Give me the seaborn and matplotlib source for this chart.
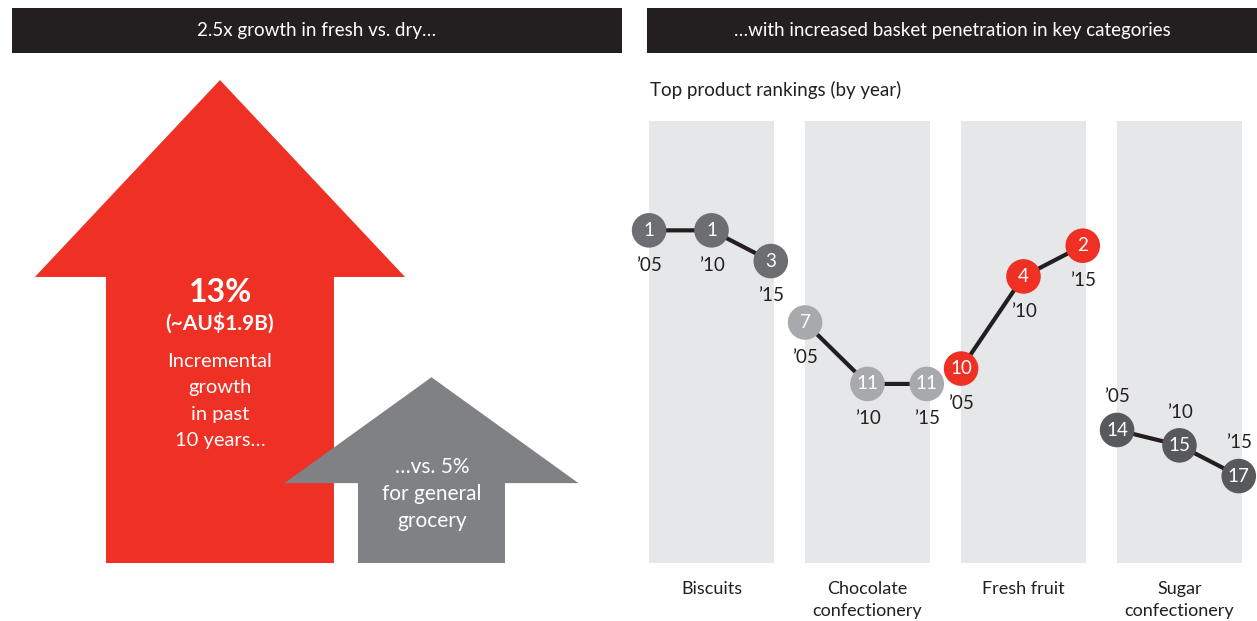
import numpy as np
import pandas as pd
import matplotlib
matplotlib.use("Agg")
import matplotlib.pyplot as plt
from matplotlib.patches import Polygon
import seaborn as sns

# ---- data -------------------------------------------------------------
growth_labels = ["Fresh", "General grocery"]
growth_values = [13, 5]  # incremental growth in past 10 years, %

categories = ["Biscuits", "Chocolate\nconfectionery", "Fresh fruit", "Sugar\nconfectionery"]
years = ["\u201905", "\u201910", "\u201915"]
rank_biscuits = [1, 1, 3]
rank_chocolate = [7, 11, 11]
rank_fresh_fruit = [10, 4, 2]
rank_sugar = [14, 15, 17]

header_left = "2.5x growth in fresh vs. dry\u2026"
header_right = "\u2026with increased basket penetration in key categories"
subtitle = "Top product rankings (by year)"

# ---- style ------------------------------------------------------------
sns.set_theme(style="white")
plt.rcParams["font.family"] = ["Lato", "DejaVu Sans"]

RED = "#ee3124"
GREY_ARROW = "#808184"
DARK = "#231f20"
COLUMN = "#e6e7e8"
dot_palette = {categories[0]: "#6d6e71", categories[1]: "#a7a9ac",
               categories[2]: RED, categories[3]: "#58595b"}

W, H = 1257, 621
fig = plt.figure(figsize=(W / 100, H / 100), dpi=100)
fig.patch.set_facecolor("white")


def box(x0, y0, x1, y1):
    """Figure-fraction rectangle from pixel edges measured from top-left."""
    return [x0 / W, 1 - y1 / H, (x1 - x0) / W, (y1 - y0) / H]


def fpos(x, y):
    return x / W, 1 - y / H


# ---- header bars ------------------------------------------------------
for rect, txt in [(box(12, 8, 622, 53), header_left), (box(647, 8, 1257, 53), header_right)]:
    hax = fig.add_axes(rect)
    hax.set_facecolor(DARK)
    hax.set_xticks([]); hax.set_yticks([])
    for s in hax.spines.values():
        s.set_visible(False)
    hax.text(0.5, 0.5, txt, color="white", ha="center", va="center",
             fontsize=13.5, transform=hax.transAxes)

# ---- left panel: growth arrows ----------------------------------------
ax_l = fig.add_axes(box(0, 60, 640, 563))
ax_l.set_xlim(-1.04, 1.986)
ax_l.set_ylim(0, 13.54)
ax_l.axis("off")

arrow_colors = [RED, GREY_ARROW]
head_half = [0.875, 0.695]
shaft_half = [0.539, 0.3475]
head_height = [5.30, 2.85]
for i, v in enumerate(growth_values):
    hh, sh, hd = head_half[i], shaft_half[i], head_height[i]
    pts = [(i - sh, 0), (i - sh, v - hd), (i - hh, v - hd), (i, v),
           (i + hh, v - hd), (i + sh, v - hd), (i + sh, 0)]
    ax_l.add_patch(Polygon(pts, closed=True, facecolor=arrow_colors[i],
                           edgecolor="none"))

# text inside the arrows
fig.text(*fpos(221, 292), f"{growth_values[0]}%", color="white", ha="center",
         va="center", fontsize=23, fontweight="bold")
fig.text(*fpos(220, 323), "(~AU$1.9B)", color="white", ha="center",
         va="center", fontsize=15, fontweight="bold")
fig.text(*fpos(220, 401), "Incremental\ngrowth\nin past\n10 years\u2026",
         color="white", ha="center", va="center", fontsize=14.5, linespacing=1.66)
fig.text(*fpos(432, 494), f"\u2026vs. {growth_values[1]}%\nfor general\ngrocery",
         color="white", ha="center", va="center", fontsize=15, linespacing=1.45)

# ---- right panel: product rankings ------------------------------------
fig.text(*fpos(650, 90), subtitle, color=DARK, ha="left", va="center", fontsize=13.5)

ax_r = fig.add_axes(box(620, 121, 1257, 563))
year_offset = [-0.40, 0.0, 0.38]
ranks = [rank_biscuits, rank_chocolate, rank_fresh_fruit, rank_sugar]
rows = []
for ci, (cat, rk) in enumerate(zip(categories, ranks)):
    for yi, (yr, r) in enumerate(zip(years, rk)):
        rows.append({"category": cat, "year": yr, "x": ci + year_offset[yi], "rank": r})
df = pd.DataFrame(rows)

for ci in range(len(categories)):
    ax_r.axvspan(ci - 0.4, ci + 0.4, color=COLUMN, lw=0, zorder=0)

sns.lineplot(data=df, x="x", y="rank", units="category", estimator=None,
             color=DARK, lw=3, ax=ax_r, zorder=2, legend=False)
sns.scatterplot(data=df, x="x", y="rank", hue="category", palette=dot_palette,
                s=620, linewidth=0, ax=ax_r, zorder=3, legend=False)
for coll in ax_r.collections:
    coll.set_clip_on(False)

for _, row in df.iterrows():
    ax_r.text(row["x"], row["rank"], str(row["rank"]), color="white",
              ha="center", va="center", fontsize=13.5, zorder=4)
    above = row["category"] == categories[3]
    ax_r.annotate(row["year"], (row["x"], row["rank"]),
                  xytext=(0, 24 if above else -25), textcoords="offset points",
                  ha="center", va="center", fontsize=13.5, color=DARK)

ax_r.set_xlim((620 - 711.5) / 156, 3.497)
ax_r.set_ylim(22.66, -6.12)
ax_r.set_xticks(range(len(categories)))
ax_r.set_xticklabels(categories, fontsize=13, color=DARK, linespacing=1.45)
ax_r.tick_params(axis="x", length=0, pad=13)
ax_r.set_yticks([])
ax_r.set_xlabel(""); ax_r.set_ylabel("")
for s in ax_r.spines.values():
    s.set_visible(False)
ax_r.set_facecolor("none")

fig.savefig("out.png", dpi=100, facecolor="white")
